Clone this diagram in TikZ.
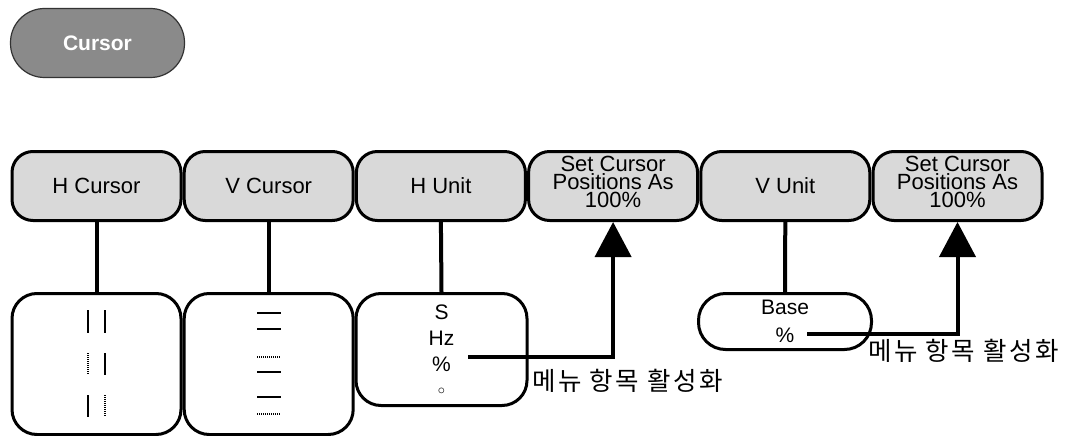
\documentclass[tikz,border=0pt]{standalone}
\usepackage{fontspec}
\setmainfont{Liberation Sans}
\newfontfamily\kofont[LetterSpace=10]{Noto Sans CJK KR}
\usetikzlibrary{arrows.meta}
\definecolor{keygray}{HTML}{D9D9D9}
\definecolor{pillgray}{HTML}{8A8A8A}
\tikzset{
  softkey/.style={draw=black, line width=3pt, fill=keygray, rounded corners=21pt,
    minimum width=169pt, minimum height=69pt, inner sep=0pt, align=center,
    font=\fontsize{22pt}{18pt}\selectfont},
  menubox/.style={draw=black, line width=3pt, fill=white, rounded corners=25pt,
    minimum width=169pt, inner sep=0pt, align=center},
  link/.style={line width=4pt},
  actarrow/.style={line width=4pt, -{Triangle[width=36pt,length=35pt]}},
  cursline/.style={line width=1.5pt},
  cursdot/.style={line width=1.5pt, dash pattern=on 1pt off 1pt},
  kolabel/.style={anchor=west, inner sep=0pt, font=\kofont\fontsize{25.5pt}{27pt}\selectfont}
}
\begin{document}
\begin{tikzpicture}[x=1pt,y=-1pt]
\useasboundingbox (0,0) rectangle (1069,436);
% menu key
\node[draw=black!80, line width=1.2pt, fill=pillgray, rounded corners=34pt,
  minimum width=174pt, minimum height=69pt, text=white,
  font=\fontsize{21pt}{24pt}\selectfont\bfseries] (cursor) at (97.5,43) {Cursor};
% soft keys
\node[softkey] (hcur) at (96.5,186) {H Cursor};
\node[softkey] (vcur) at (268.7,186) {V Cursor};
\node[softkey] (hunit) at (440.9,186) {H Unit};
\node[softkey] (hset) at (613.1,186) {Set Cursor\\Positions As\\100\%\\[-10pt]};
\node[softkey] (vunit) at (785.3,186) {V Unit};
\node[softkey] (vset) at (957.5,186) {Set Cursor\\Positions As\\100\%\\[-10pt]};
% sub menus
\node[menubox, minimum height=141pt] (hcurm) at (96.5,364) {};
\node[menubox, minimum height=141pt] (vcurm) at (268.7,364) {};
\node[menubox, minimum width=171pt, minimum height=112pt,
  font=\fontsize{21pt}{26pt}\selectfont] (hunitm) at (441.5,349.5)
  {S\\Hz\\\%\\[-3pt]$\scriptstyle\circ$};
\node[menubox, minimum width=173pt, minimum height=56pt, rounded corners=27pt,
  font=\fontsize{21pt}{28pt}\selectfont] (vunitm) at (785,321.5) {Base\\\%};
% links
\draw[link] (hcur.south) -- (hcurm.north);
\draw[link] (vcur.south) -- (vcurm.north);
\draw[link] (hunit.south) -- (hunitm.north);
\draw[link] (vunit.south) -- (vunitm.north);
% H cursor marks
\draw[cursline] (88,310) -- (88,333);
\draw[cursline] (105,310) -- (105,333);
\draw[cursdot] (88,353) -- (88,375);
\draw[cursline] (105,353) -- (105,375);
\draw[cursline] (88,395) -- (88,417);
\draw[cursdot] (105,395) -- (105,417);
% V cursor marks
\draw[cursline] (257,313) -- (281,313);
\draw[cursline] (257,329) -- (281,329);
\draw[cursdot] (257,357) -- (281,357);
\draw[cursline] (257,372) -- (281,372);
\draw[cursline] (257,397) -- (281,397);
\draw[cursdot] (257,414) -- (281,414);
% activation arrows
\coordinate (hpct) at (468,357);
\coordinate (vpct) at (807,334);
\draw[actarrow] (hpct) -| (hset.south);
\draw[actarrow] (vpct) -| (vset.south);
\node[kolabel] (hlab) at (532,381) {메뉴 항목 활성화};
\node[kolabel] (vlab) at (868,351) {메뉴 항목 활성화};
\end{tikzpicture}
\end{document}
